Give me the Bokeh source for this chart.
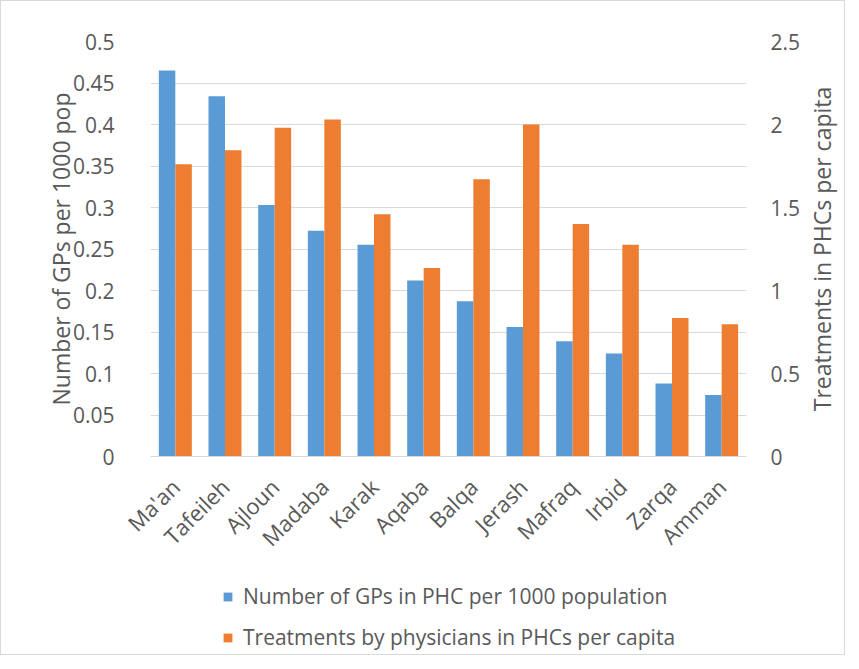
import math
from bokeh.plotting import figure
from bokeh.layouts import column, row
from bokeh.models import (Range1d, LinearAxis, FixedTicker, FactorRange, Legend,
                          LegendItem, ColumnDataSource)
from bokeh.core.properties import value
from bokeh.transform import dodge
from bokeh.embed import file_html
from bokeh.resources import INLINE

governorates = ["Ma'an", "Tafeileh", "Ajloun", "Madaba", "Karak", "Aqaba",
                "Balqa", "Jerash", "Mafraq", "Irbid", "Zarqa", "Amman"]
gps_per_1000 = [0.465, 0.434, 0.303, 0.272, 0.255, 0.212, 0.187, 0.156,
                0.139, 0.124, 0.088, 0.074]
treatments_per_capita = [1.76, 1.845, 1.98, 2.03, 1.46, 1.135, 1.67, 2.0,
                         1.40, 1.275, 0.835, 0.797]
left_ticks = [0, 0.05, 0.1, 0.15, 0.2, 0.25, 0.3, 0.35, 0.4, 0.45, 0.5]
left_tick_labels = ["0", "0.05", "0.1", "0.15", "0.2", "0.25", "0.3", "0.35",
                    "0.4", "0.45", "0.5"]
right_ticks = [0, 0.5, 1, 1.5, 2, 2.5]
right_tick_labels = ["0", "0.5", "1", "1.5", "2", "2.5"]
series_names = ["Number of GPs in PHC per 1000 population",
                "Treatments by physicians in PHCs per capita"]
left_title = "Number of GPs per 1000 pop"
right_title = "Treatments in PHCs per capita"

BLUE = "#5B9BD5"
ORANGE = "#ED7D31"
TXT = "#595959"
GRID = "#D9D9D9"
FONT = "Open Sans"
W = 843
W_MAIN = 805
H_MAIN = 580
H_LEG = 73
TOP, BOTTOM = 40, 125

src = ColumnDataSource(dict(g=governorates, a=gps_per_1000, b=treatments_per_capita))

p = figure(width=W_MAIN, height=H_MAIN, x_range=FactorRange(*governorates, range_padding=0),
           y_range=Range1d(0, 0.5), output_backend="svg", toolbar_location=None,
           min_border_left=149, min_border_right=W_MAIN - 745, min_border_top=TOP,
           min_border_bottom=BOTTOM)
p.extra_y_ranges = {"right": Range1d(0, 2.5)}
p.outline_line_color = None
p.background_fill_color = "white"
p.border_fill_color = "white"

r1 = p.vbar(x=dodge("g", -0.166, range=p.x_range), top="a", width=0.332, source=src,
            fill_color=BLUE, line_color=None)
r2 = p.vbar(x=dodge("g", 0.166, range=p.x_range), top="b", width=0.332, source=src,
            fill_color=ORANGE, line_color=None, y_range_name="right")

p.xgrid.grid_line_color = None
p.ygrid.grid_line_color = GRID
p.ygrid.ticker = FixedTicker(ticks=left_ticks)

ya = p.yaxis[0]
ya.ticker = FixedTicker(ticks=left_ticks)
ya.major_label_overrides = {t: l for t, l in zip(left_ticks, left_tick_labels)}
ya.axis_label = left_title

ra = LinearAxis(y_range_name="right", ticker=FixedTicker(ticks=right_ticks))
ra.major_label_overrides = {t: l for t, l in zip(right_ticks, right_tick_labels)}
p.add_layout(ra, "right")

for ax in (ya, ra):
    ax.axis_line_color = None
    ax.major_tick_line_color = None
    ax.minor_tick_line_color = None
    ax.major_label_text_font = FONT
    ax.major_label_text_font_size = "21px"
    ax.major_label_text_color = TXT
    ax.axis_label_text_font = FONT
    ax.axis_label_text_font_size = "23px"
    ax.axis_label_text_font_style = "normal"
    ax.axis_label_text_color = TXT
ya.major_label_standoff = 30
ya.axis_label_standoff = -7
ra.major_label_standoff = 18

xa = p.xaxis[0]
xa.axis_line_color = GRID
xa.major_tick_line_color = None
xa.minor_tick_line_color = None
xa.major_label_orientation = math.pi / 4
xa.major_label_text_font = FONT
xa.major_label_text_font_size = "22px"
xa.major_label_text_color = TXT
xa.major_label_standoff = 20

# right-hand title strip (text reads bottom to top, as in the original)
rt = figure(width=W - W_MAIN, height=H_MAIN, x_range=Range1d(0, 1), y_range=Range1d(0, 1),
            output_backend="svg", toolbar_location=None, min_border_left=0,
            min_border_right=0, min_border_top=TOP, min_border_bottom=BOTTOM,
            x_axis_location=None, y_axis_location=None)
rt.grid.grid_line_color = None
rt.outline_line_color = None
rt.border_fill_color = "white"
rt.text(x=[0.4], y=[0.5], text=[right_title], angle=math.pi / 2,
        text_align="center", text_baseline="middle", text_font=value(FONT),
        text_font_size="23px", text_color=TXT)

# legend strip below the chart
q = figure(width=W, height=H_LEG, x_range=Range1d(0, 1), y_range=Range1d(0, 1),
           output_backend="svg", toolbar_location=None, min_border_left=149,
           min_border_right=W - 745, min_border_top=0, min_border_bottom=0,
           x_axis_location=None, y_axis_location=None)
q.grid.grid_line_color = None
q.outline_line_color = None
q.border_fill_color = "white"
k1 = q.vbar(x="a", top="a", bottom="a", width=0.01, source=src, fill_color=BLUE,
            line_color=None)
k2 = q.vbar(x="a", top="a", bottom="a", width=0.01, source=src, fill_color=ORANGE,
            line_color=None)

legend = Legend(items=[LegendItem(label=series_names[0], renderers=[k1], index=0),
                       LegendItem(label=series_names[1], renderers=[k2], index=0)],
                location=(72, 3), orientation="vertical")
legend.margin = 0
legend.padding = 0
legend.border_line_color = None
legend.background_fill_alpha = 0
legend.glyph_width = 11
legend.glyph_height = 11
legend.label_height = 24
legend.spacing = 13
legend.label_standoff = 10
legend.label_text_font = FONT
legend.label_text_font_size = "21px"
legend.label_text_color = TXT
q.add_layout(legend, "center")

layout = column(row(p, rt, spacing=0), q, spacing=0)
layout.styles = {"border": "1px solid #D9D9D9"}

open("out.html", "w").write(file_html(layout, INLINE))
